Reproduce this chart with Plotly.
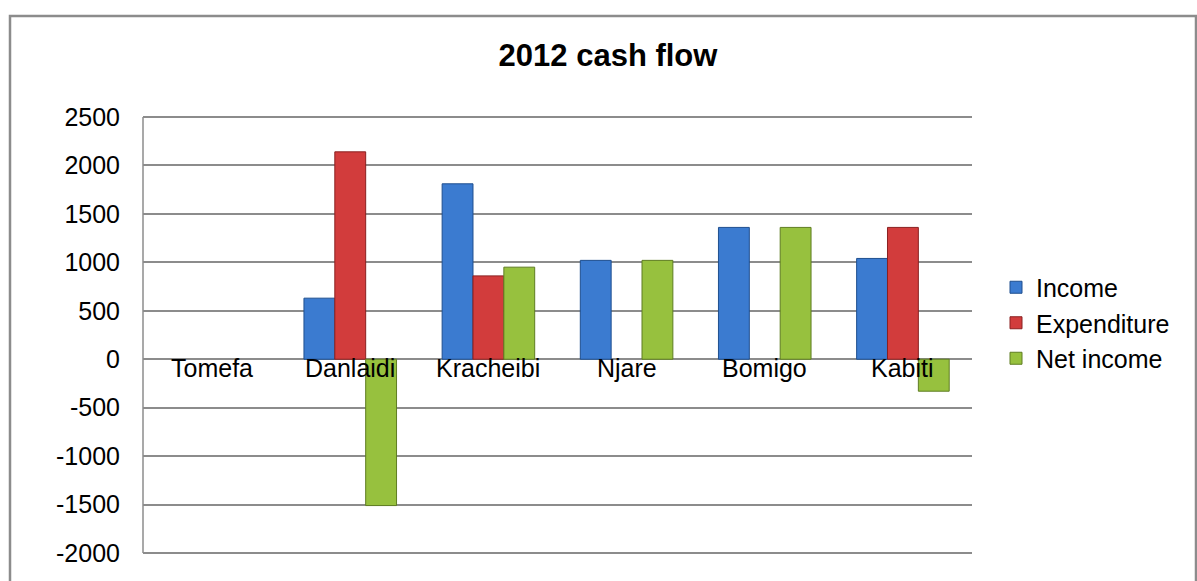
import plotly.graph_objects as go

categories = ["Tomefa", "Danlaidi", "Kracheibi", "Njare", "Bomigo", "Kabiti"]
income = [None, 630, 1810, 1020, 1360, 1040]
expenditure = [None, 2140, 860, None, None, 1360]
net_income = [None, -1510, 950, 1020, 1360, -330]
y_ticks = [2500, 2000, 1500, 1000, 500, 0, -500, -1000, -1500, -2000]
y_tick_labels = [str(v) for v in y_ticks]

W, H = 1197, 581
L, R, T, B = 143, 972, 115, 555
FONT = "Liberation Sans, Arial, sans-serif"

fig = go.Figure()
series = [
    ("Income", income, "#3b7bd0", "#1f4f8f"),
    ("Expenditure", expenditure, "#d23c3c", "#8a2020"),
    ("Net income", net_income, "#97c13e", "#5f7d22"),
]
for name, vals, col, edge in series:
    fig.add_trace(go.Bar(
        x=categories, y=vals, name=name,
        marker=dict(color=col, line=dict(color=edge, width=1)),
    ))

annotations = []
for c in categories:
    annotations.append(dict(
        x=c, y=0, xref="x", yref="y", text=c, showarrow=False,
        yanchor="middle", yshift=-9, font=dict(size=25, color="#000000", family=FONT),
    ))

pw, ph = R - L, B - T
def px(x):
    return (x - L) / pw
def py(y):
    return (B - y) / ph

fig.update_layout(
    width=W, height=H,
    margin=dict(l=L, r=W - R, t=T, b=H - B, pad=0),
    paper_bgcolor="white", plot_bgcolor="white",
    font=dict(family=FONT, size=25, color="#000000"),
    title=dict(text="<b>2012 cash flow</b>", xref="container", x=608 / W,
               xanchor="center", y=1 - 55 / H, yanchor="middle",
               font=dict(size=31)),
    barmode="group", bargap=0.33, bargroupgap=0,
    showlegend=True,
    legend=dict(x=px(996), y=py(323), xanchor="left", yanchor="middle",
                font=dict(size=25), bgcolor="rgba(0,0,0,0)", itemwidth=30,
                tracegroupgap=0),
    xaxis=dict(showticklabels=False, showgrid=False, zeroline=False,
               showline=False, ticks=""),
    yaxis=dict(range=[-2020, 2520], tickvals=y_ticks, ticktext=y_tick_labels,
               showgrid=True, gridcolor="#8c8c8c", gridwidth=1.5, zeroline=True,
               zerolinecolor="#8c8c8c", zerolinewidth=1.5,
               showline=False, ticks="", ticklabelstandoff=22,
               tickfont=dict(size=25)),
    annotations=annotations,
    shapes=[
        dict(type="rect", xref="paper", yref="paper",
             x0=px(10), x1=px(1196), y0=py(600), y1=py(16),
             line=dict(color="#8c8c8c", width=2.5), layer="below"),
        dict(type="line", xref="paper", yref="y", x0=0, x1=0,
             y0=y_ticks[-1], y1=y_ticks[0],
             line=dict(color="#8c8c8c", width=1.5)),
    ],
)

fig.write_html("out.html", config={"displayModeBar": False},
               post_script="document.body.style.margin='0';document.body.style.overflow='hidden';")
